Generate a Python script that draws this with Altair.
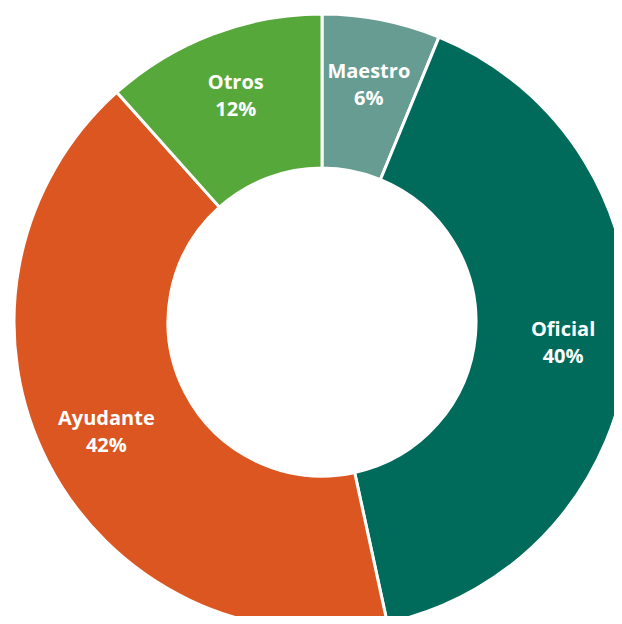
import altair as alt
import pandas as pd

categories = ["Maestro", "Oficial", "Ayudante", "Otros"]
values = [6.2, 40.4, 41.8, 11.6]
order = [1, 2, 3, 4]
colors = ["#679C93", "#006A5B", "#DB5620", "#57A83B"]

df = pd.DataFrame({"cat": categories, "val": values, "ord": order})

base = alt.Chart(df).transform_calculate(
    label="datum.cat + '\\n' + round(datum.val) + '%'"
).encode(
    theta=alt.Theta("val:Q", stack=True),
    order=alt.Order("ord:Q"),
    x=alt.value(314),
    y=alt.value(314),
)

arcs = base.mark_arc(outerRadius=308, innerRadius=154, stroke="white", strokeWidth=3).encode(
    color=alt.Color("cat:N", scale=alt.Scale(domain=categories, range=colors), legend=None)
)

labels = base.mark_text(
    radius=242, font="Open Sans", fontWeight="bold", fontSize=20,
    color="white", lineBreak="\n", lineHeight=27, baseline="middle", align="center", dy=-13
).encode(text="label:N")

chart = (arcs + labels).properties(
    width=606, height=608, padding=0, autosize=alt.AutoSizeParams(type="none")
).configure_view(stroke=None)

chart.save("out.html", embed_options={"renderer": "svg", "actions": False})
